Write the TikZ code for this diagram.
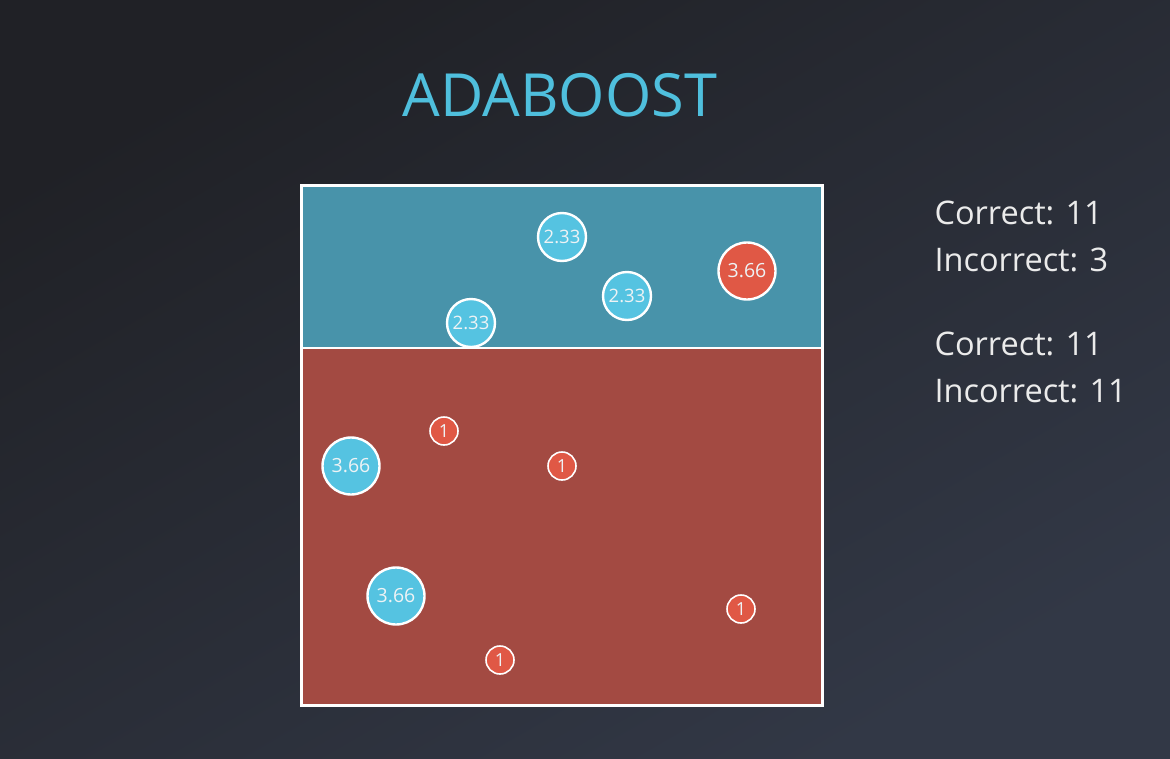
\documentclass[tikz,border=0pt]{standalone}
\usepackage{fontspec}
\setmainfont{Open Sans}
\begin{document}
\definecolor{bgdark}{HTML}{202126}
\definecolor{bglight}{HTML}{323846}
\definecolor{titleblue}{HTML}{4FBFDD}
\definecolor{regblue}{HTML}{4893AA}
\definecolor{regred}{HTML}{A34A42}
\definecolor{ptblue}{HTML}{55C3E1}
\definecolor{ptred}{HTML}{E05845}
\definecolor{lbl}{HTML}{EEF3F5}
\tikzset{
  pt/.style={circle, draw=white, line width=2.4pt, inner sep=0pt, text=lbl},
  bluept/.style={pt, fill=ptblue},
  redpt/.style={pt, fill=ptred},
  small/.style={minimum size=28pt, line width=1.6pt, font=\fontsize{18}{18}\selectfont},
  mid/.style={minimum size=48pt, font=\fontsize{18.5}{18.5}\selectfont},
  big/.style={minimum size=57pt, font=\fontsize{19.5}{19.5}\selectfont},
  stat/.style={anchor=west, text=white!92!black, font=\fontsize{32.5}{32.5}\selectfont}
}
\begin{tikzpicture}[x=1pt, y=-1pt]
  \useasboundingbox (0,0) rectangle (1170,758);
  % backdrop
  \shade[top color=bgdark, bottom color=bglight, shading angle=30] (0,0) rectangle (1170,758);
  % title
  \node[text=titleblue, font=\fontsize{59.5}{59.5}\selectfont] (title) at (560,95) {ADABOOST};
  % the two regions of the split
  \fill[regblue] (301,185) rectangle (822,348);
  \fill[regred] (301,348) rectangle (822,705);
  \draw[white, line width=2pt] (301,348) -- (822,348);
  \draw[white, line width=3pt] (301,185) rectangle (822,705);
  % weighted points
  \node[bluept, mid] (b1) at (562,237) {2.33};
  \node[bluept, mid] (b2) at (627,296) {2.33};
  \node[bluept, mid] (b3) at (471,323) {2.33};
  \node[redpt, big] (r1) at (747,271) {3.66};
  \node[bluept, big] (b4) at (351,466) {3.66};
  \node[bluept, big] (b5) at (396,596) {3.66};
  \node[redpt, small] (s1) at (444,431) {1};
  \node[redpt, small] (s2) at (562,466) {1};
  \node[redpt, small] (s3) at (741,609) {1};
  \node[redpt, small] (s4) at (500,660) {1};
  % tallies
  \node[stat] (c1) at (931,213) {Correct: 11};
  \node[stat] (i1) at (931,260) {Incorrect: 3};
  \node[stat] (c2) at (931,344) {Correct: 11};
  \node[stat] (i2) at (931,391) {Incorrect: 11};
\end{tikzpicture}
\end{document}
